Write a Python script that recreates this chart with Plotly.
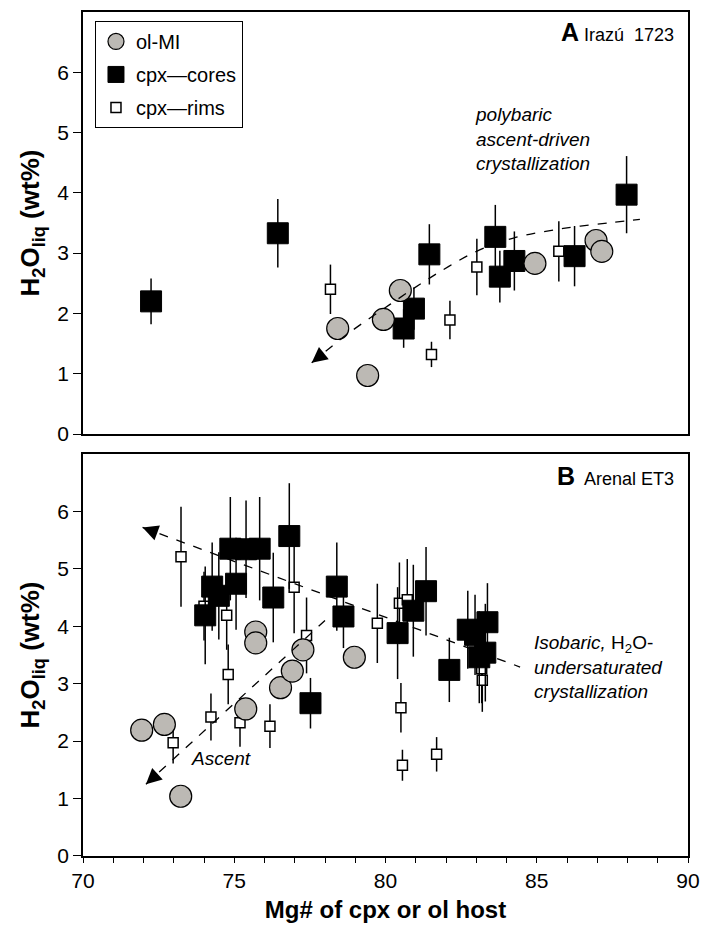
import plotly.graph_objects as go

# ---------------- Panel A: Irazú 1723 ----------------
ol_a_x = [78.42, 79.93, 80.49, 79.41, 84.94, 86.96, 87.15]
ol_a_y = [1.75, 1.90, 2.38, 0.97, 2.83, 3.21, 3.03]

cores_a_x = [72.25, 76.44, 81.45, 80.94, 80.60, 83.63, 83.78, 84.26, 86.25, 87.97]
cores_a_y = [2.20, 3.33, 2.98, 2.08, 1.75, 3.27, 2.61, 2.87, 2.95, 3.97]
cores_a_err = [0.38, 0.57, 0.50, 0.35, 0.32, 0.53, 0.43, 0.49, 0.50, 0.64]

rims_a_x = [78.18, 81.52, 82.13, 83.02, 85.73]
rims_a_y = [2.40, 1.32, 1.89, 2.77, 3.03]
rims_a_err = [0.41, 0.21, 0.32, 0.47, 0.50]

trend_a_x = [77.56, 78.72, 80.15, 81.47, 83.01, 84.23, 85.88, 87.53, 88.41]
trend_a_y = [1.18, 1.65, 2.15, 2.59, 3.03, 3.25, 3.41, 3.51, 3.56]

# ---------------- Panel B: Arenal ET3 ----------------
ol_b_x = [71.94, 72.69, 73.23, 75.71, 75.71, 75.38, 76.53, 76.92, 77.27, 78.97]
ol_b_y = [2.19, 2.29, 1.04, 3.90, 3.71, 2.56, 2.93, 3.22, 3.59, 3.46]

cores_b_x = [74.87, 75.39, 75.84, 76.82, 74.04, 74.27, 74.49, 75.06, 76.29, 78.39,
             78.61, 77.52, 80.40, 80.92, 81.34, 82.11, 82.72, 82.96, 83.37, 83.10, 83.30]
cores_b_y = [5.35, 5.34, 5.35, 5.57, 4.19, 4.69, 4.53, 4.74, 4.50, 4.69,
             4.17, 2.66, 3.88, 4.27, 4.61, 3.24, 3.94, 3.85, 4.07, 3.46, 3.54]
cores_b_err = [0.90, 0.85, 0.90, 0.92, 0.85, 0.77, 0.76, 0.80, 0.78, 0.77,
               0.55, 0.44, 0.80, 0.80, 0.77, 0.56, 0.68, 0.70, 0.68, 0.80, 0.85]

rims_b_x = [73.24, 74.00, 74.75, 74.80, 74.23, 75.19, 76.18, 72.98, 76.98, 77.39,
            79.73, 80.46, 80.72, 80.51, 80.56, 81.69, 83.20, 83.18]
rims_b_y = [5.21, 4.35, 4.19, 3.16, 2.42, 2.32, 2.26, 1.97, 4.68, 3.84,
            4.05, 4.40, 4.46, 2.58, 1.58, 1.77, 3.06, 3.26]
rims_b_err = [0.87, 0.60, 0.60, 0.52, 0.41, 0.42, 0.38, 0.36, 0.80, 0.66,
              0.69, 0.71, 0.71, 0.43, 0.27, 0.30, 0.55, 0.60]

isobaric_x = [71.97, 84.45]
isobaric_y = [5.72, 3.29]
ascent_x = [72.08, 78.00]
ascent_y = [1.25, 4.10]

x_range = [70, 90]
y_range = [0, 7]
y_ticks = [0, 1, 2, 3, 4, 5, 6]
x_ticks = [70, 75, 80, 85, 90]

GRAY = "#bcb9b4"
FONT = "Liberation Sans, Arial, Helvetica, sans-serif"

fig = go.Figure()


def add_panel(xa, ya, ol_x, ol_y, c_x, c_y, c_e, r_x, r_y, r_e, show):
    # drawing order: rims (bottom), cores, ol-MI (top); legend order via legendrank
    fig.add_trace(go.Scatter(
        x=r_x, y=r_y, mode="markers", name="cpx\u2014rims", legendgroup="rims",
        legendrank=3, showlegend=show, xaxis=xa, yaxis=ya,
        error_y=dict(type="data", array=r_e, visible=True, color="black",
                     thickness=1.5, width=0),
        marker=dict(symbol="square", size=10, color="white",
                    line=dict(color="black", width=1.5))))
    fig.add_trace(go.Scatter(
        x=c_x, y=c_y, mode="markers", name="cpx\u2014cores", legendgroup="cores",
        legendrank=2, showlegend=show, xaxis=xa, yaxis=ya,
        error_y=dict(type="data", array=c_e, visible=True, color="black",
                     thickness=1.5, width=0),
        marker=dict(symbol="square", size=21, color="black",
                    line=dict(color="black", width=1))))
    fig.add_trace(go.Scatter(
        x=ol_x, y=ol_y, mode="markers", name="ol-MI", legendgroup="ol",
        legendrank=1, showlegend=show, xaxis=xa, yaxis=ya,
        marker=dict(symbol="circle", size=22, color=GRAY,
                    line=dict(color="black", width=1.2))))


add_panel("x", "y", ol_a_x, ol_a_y, cores_a_x, cores_a_y, cores_a_err,
          rims_a_x, rims_a_y, rims_a_err, True)
add_panel("x2", "y2", ol_b_x, ol_b_y, cores_b_x, cores_b_y, cores_b_err,
          rims_b_x, rims_b_y, rims_b_err, False)

dash_line = dict(color="black", width=1.3, dash="dash")
fig.add_trace(go.Scatter(x=trend_a_x, y=trend_a_y, mode="lines",
                         line=dict(shape="spline", **dash_line),
                         showlegend=False, xaxis="x", yaxis="y", hoverinfo="skip"))
fig.add_trace(go.Scatter(x=isobaric_x, y=isobaric_y, mode="lines", line=dash_line,
                         showlegend=False, xaxis="x2", yaxis="y2", hoverinfo="skip"))
fig.add_trace(go.Scatter(x=ascent_x, y=ascent_y, mode="lines", line=dash_line,
                         showlegend=False, xaxis="x2", yaxis="y2", hoverinfo="skip"))


def arrow(xs, ys, xr, yr):
    tx, ty = xs[0], ys[0]
    frac = 0.35 / abs(xs[1] - tx)
    bx = tx + frac * (xs[1] - tx)
    by = ty + frac * (ys[1] - ty)
    return dict(x=tx, y=ty, ax=bx, ay=by, xref=xr, yref=yr, axref=xr, ayref=yr,
                showarrow=True, arrowhead=2, arrowsize=2.6, arrowwidth=1.2,
                arrowcolor="black", standoff=0, text="")


annotations = [
    arrow(trend_a_x, trend_a_y, "x", "y"),
    arrow(isobaric_x, isobaric_y, "x2", "y2"),
    arrow(ascent_x, ascent_y, "x2", "y2"),
    dict(x=89.6, y=6.67, xref="x", yref="y", xanchor="right", yanchor="middle",
         showarrow=False, font=dict(family=FONT, size=18, color="black"),
         text='<b><span style="font-size:25px">A</span></b> Irazú  1723'),
    dict(x=89.6, y=6.62, xref="x2", yref="y2", xanchor="right", yanchor="middle",
         showarrow=False, font=dict(family=FONT, size=18, color="black"),
         text='<b><span style="font-size:25px">B</span></b>  Arenal ET3'),
    dict(x=82.88, y=4.9, xref="x", yref="y", xanchor="left", yanchor="middle",
         showarrow=False, align="left", font=dict(family=FONT, size=19, color="black"),
         text="<i>polybaric<br>ascent-driven<br>crystallization</i>"),
    dict(x=84.83, y=3.29, xref="x2", yref="y2", xanchor="left", yanchor="middle",
         showarrow=False, align="left", font=dict(family=FONT, size=19, color="black"),
         text="<i>Isobaric,</i> H<sub>2</sub>O-<br><i>undersaturated</i><br><i>crystallization</i>"),
    dict(x=74.57, y=1.69, xref="x2", yref="y2", xanchor="center", yanchor="middle",
         showarrow=False, font=dict(family=FONT, size=19, color="black"),
         text="<i>Ascent</i>"),
]

axis_common = dict(showline=True, linecolor="black", linewidth=1.5, mirror=True,
                   showgrid=False, zeroline=False)
ytitle = dict(text="<b>H<sub>2</sub>O<sub>liq</sub> (wt%)</b>",
              font=dict(family=FONT, size=26, color="black"), standoff=10)

# the page body adds an 8 px offset, so the figure is drawn 8 px smaller each way
fig.update_layout(
    width=706, height=922,
    margin=dict(l=75, r=26, t=2, b=74),
    paper_bgcolor="white", plot_bgcolor="white",
    font=dict(family=FONT, size=21, color="black"),
    showlegend=True,
    legend=dict(x=0.0198, y=0.9894, xanchor="left", yanchor="top",
                bordercolor="black", borderwidth=1, bgcolor="white",
                font=dict(family=FONT, size=20, color="black"),
                tracegroupgap=4, traceorder="grouped", itemsizing="trace"),
    xaxis=dict(domain=[0, 1], range=x_range, anchor="y", showticklabels=False,
               ticks="", **axis_common),
    yaxis=dict(domain=[0.5, 1], range=y_range, anchor="x", tickvals=y_ticks,
               ticks="outside", ticklen=8, tickwidth=1.3, tickcolor="black",
               title=ytitle, **axis_common),
    xaxis2=dict(domain=[0, 1], range=x_range, anchor="y2", tickvals=x_ticks,
                ticks="outside", ticklen=5, tickwidth=1.3, tickcolor="black",
                minor=dict(dtick=1, ticks="outside", ticklen=5, tickwidth=1.3,
                           tickcolor="black"),
                title=dict(text="<b>Mg# of cpx or ol host</b>",
                           font=dict(family=FONT, size=24, color="black"), standoff=10),
                **axis_common),
    yaxis2=dict(domain=[0, 0.4764], range=y_range, anchor="x2", tickvals=y_ticks,
                ticks="outside", ticklen=8, tickwidth=1.3, tickcolor="black",
                title=ytitle, **axis_common),
    annotations=annotations,
)

fig.write_html("out.html")
